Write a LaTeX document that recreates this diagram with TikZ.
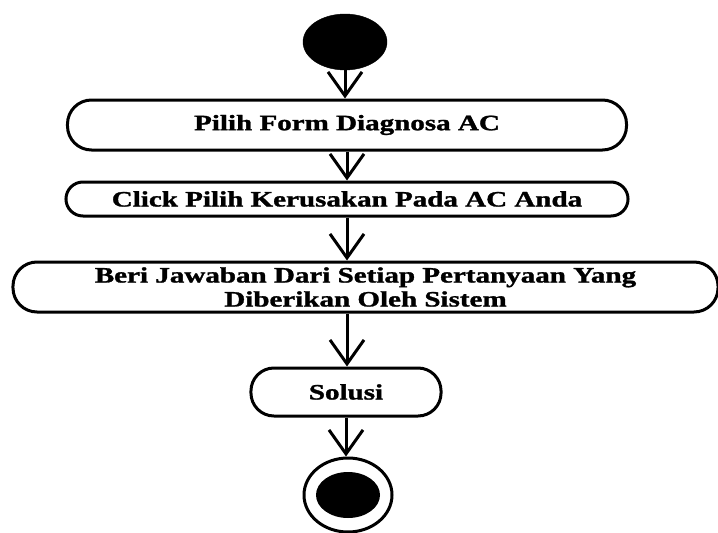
\documentclass[tikz,border=0pt]{standalone}
\usepackage{fontspec}
\setmainfont{Liberation Serif}[BoldFeatures={FakeBold=1.2}]
\usetikzlibrary{shapes.geometric,arrows.meta}

\tikzset{
  flowline/.style={line width=3pt, -{Straight Barb[length=24pt,width=34pt,line width=3pt]}},
  action/.style={draw, line width=3pt, rectangle, xscale=1.32, inner sep=0pt,
    align=center, font=\fontsize{22pt}{24pt}\selectfont\bfseries},
  startnode/.style={ellipse, fill=black, draw=black, inner sep=0pt},
}

\begin{document}
\begin{tikzpicture}[x=1pt, y=-1pt]
  \useasboundingbox (0,0) rectangle (718,533);

  % initial state
  \node[startnode, minimum width=84pt, minimum height=56pt] (start) at (345,42) {};

  % activities
  \node[action, rounded corners=24pt, minimum width=423.5pt, minimum height=50pt]
    (pilih) at (347,125) {Pilih Form Diagnosa AC};
  \node[action, rounded corners=17pt, minimum width=425.8pt, minimum height=34pt]
    (click) at (347,199) {Click Pilih Kerusakan Pada AC Anda};
  \node[action, rounded corners=24pt, minimum width=534.1pt, minimum height=50pt]
    (jawab) at (365.5,287) {Beri Jawaban Dari Setiap Pertanyaan Yang\\Diberikan Oleh Sistem};
  \node[action, rounded corners=23pt, minimum width=144pt, minimum height=48pt]
    (solusi) at (346,392) {Solusi};

  % final state
  \node[ellipse, draw, line width=3pt, minimum width=88pt, minimum height=74pt, inner sep=0pt]
    (final) at (348,495) {};
  \node[ellipse, fill=black, minimum width=64pt, minimum height=46pt, inner sep=0pt]
    (finalin) at (final.center) {};

  % control flow
  \draw[flowline] (start.south) -- (start.south |- pilih.north);
  \draw[flowline] (pilih.south) -- (pilih.south |- click.north);
  \draw[flowline] (click.south) -- (click.south |- jawab.north);
  \draw[flowline] (click.south |- jawab.south) -- (click.south |- solusi.north);
  \draw[flowline] (solusi.south) -- (solusi.south |- final.north);
\end{tikzpicture}
\end{document}
